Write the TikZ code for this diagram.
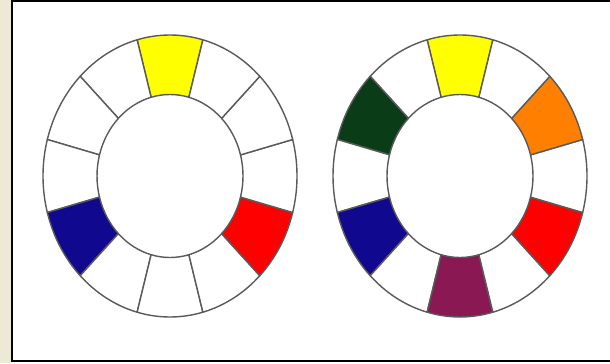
\documentclass[tikz,border=0pt]{standalone}
\usepackage{tikz}
\usepackage{xcolor}
\definecolor{framebeige}{HTML}{ECEAD6}
\definecolor{rimgray}{HTML}{5A5A5A}
\definecolor{wheelyellow}{HTML}{FFFF00}
\definecolor{wheelred}{HTML}{FF0000}
\definecolor{wheelblue}{HTML}{10088E}
\definecolor{wheelgreen}{HTML}{0A3D17}
\definecolor{wheelorange}{HTML}{FF8000}
\definecolor{wheelpurple}{HTML}{8A1853}

\begin{document}
\begin{tikzpicture}[x=0.025cm,y=0.025cm,
    sector/.style={draw=rimgray,line width=1pt,line join=round}]
    \useasboundingbox (0,0) rectangle (610,363);
    \fill[white] (0,0) rectangle (610,363);
    \fill[framebeige] (0,0) rectangle (12,363);
    \draw[line width=1.6pt] (611,2) -- (12,2) -- (12,362) -- (611,362);
    % left wheel: primaries
    \begin{scope}[shift={(170,187)}]
      \foreach \a/\col in {75/wheelyellow,105/white,135/white,165/white,195/wheelblue,225/white,
        255/white,285/white,315/wheelred,345/white,15/white,45/white} {
        \pgfmathsetmacro{\b}{\a+30}
        \draw[sector,fill=\col] (\a:127 and 141) arc[start angle=\a,end angle=\b,x radius=127,y radius=141]
          -- (\b:73 and 81.5) arc[start angle=\b,end angle=\a,x radius=73,y radius=81.5] -- cycle;
      }
    \end{scope}
    % right wheel: primaries and secondaries
    \begin{scope}[shift={(460,187)}]
      \foreach \a/\col in {75/wheelyellow,105/white,135/wheelgreen,165/white,195/wheelblue,225/white,
        255/wheelpurple,285/white,315/wheelred,345/white,15/wheelorange,45/white} {
        \pgfmathsetmacro{\b}{\a+30}
        \draw[sector,fill=\col] (\a:127 and 141) arc[start angle=\a,end angle=\b,x radius=127,y radius=141]
          -- (\b:73 and 81.5) arc[start angle=\b,end angle=\a,x radius=73,y radius=81.5] -- cycle;
      }
    \end{scope}
  \end{tikzpicture}
\end{document}
